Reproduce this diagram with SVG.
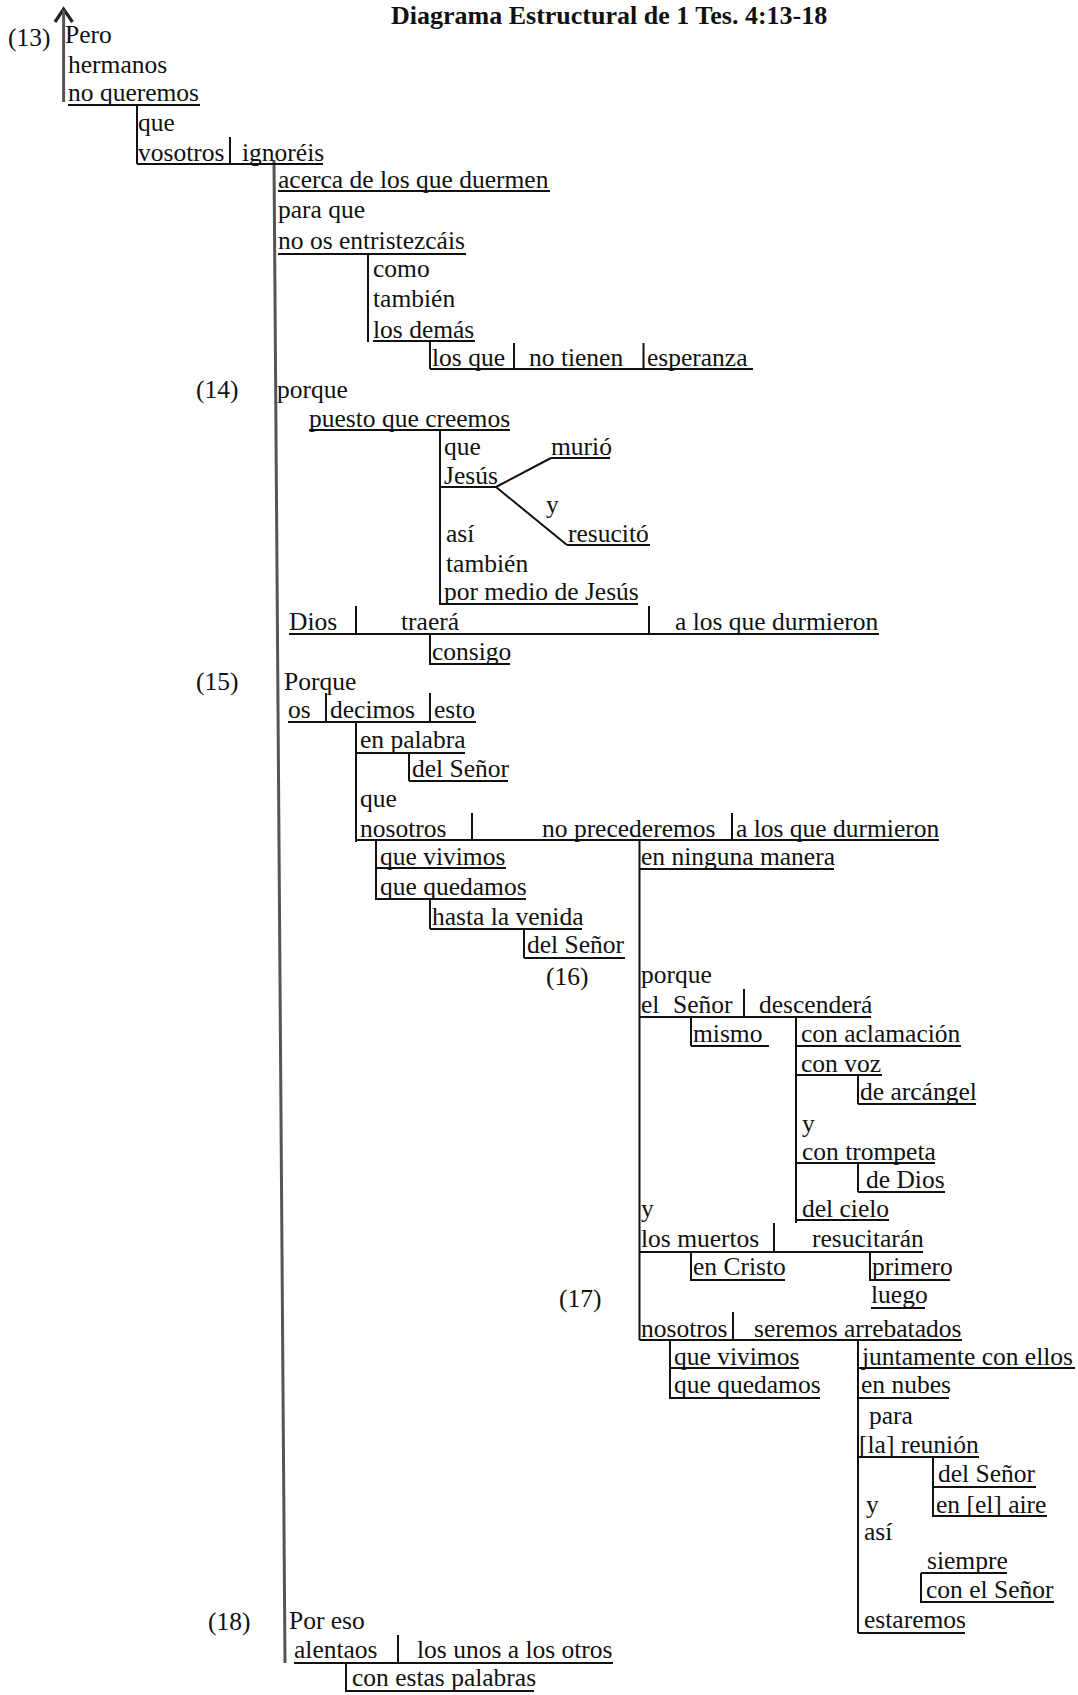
<svg xmlns="http://www.w3.org/2000/svg" width="1078" height="1695" viewBox="0 0 1078 1695">
<style>
text{font-family:"Liberation Serif","Times New Roman",serif;font-size:25.5px;fill:#111}
.title{font-weight:bold;font-size:26px}
.l{stroke:#111;stroke-width:2;fill:none}
.m{stroke:#555;stroke-width:3;fill:none}
.ah{stroke:#222;stroke-width:3.2;fill:none;stroke-linejoin:miter}
</style>
<rect width="1078" height="1695" fill="#fff"/>
<g id="connectors">
<polyline class="ah" points="55,22 63.6,9 72.5,22"/>
<line class="m" x1="63.6" y1="10" x2="63.6" y2="102"/>
<line class="m" x1="274" y1="160" x2="285" y2="1663"/>
<line class="l" x1="68" y1="105" x2="200" y2="105"/>
<line class="l" x1="137" y1="105" x2="137" y2="164"/>
<line class="l" x1="137" y1="164" x2="323" y2="164"/>
<line class="l" x1="230" y1="137" x2="230" y2="164"/>
<line class="l" x1="278" y1="191" x2="550" y2="191"/>
<line class="l" x1="278" y1="254" x2="466" y2="254"/>
<line class="l" x1="368" y1="254" x2="368" y2="342"/>
<line class="l" x1="373" y1="341" x2="475" y2="341"/>
<line class="l" x1="430" y1="341" x2="430" y2="369"/>
<line class="l" x1="430" y1="369" x2="753" y2="369"/>
<line class="l" x1="514" y1="343" x2="514" y2="369"/>
<line class="l" x1="643.5" y1="343" x2="643.5" y2="369"/>
<line class="l" x1="309" y1="430" x2="510" y2="430"/>
<line class="l" x1="440" y1="430" x2="440" y2="605"/>
<line class="l" x1="551" y1="458" x2="610" y2="458"/>
<line class="l" x1="440" y1="487" x2="496" y2="487"/>
<line class="l" x1="496" y1="487" x2="551" y2="458"/>
<line class="l" x1="496" y1="487" x2="567" y2="545"/>
<line class="l" x1="567" y1="545" x2="650" y2="545"/>
<line class="l" x1="440" y1="604" x2="638" y2="604"/>
<line class="l" x1="289" y1="634" x2="879" y2="634"/>
<line class="l" x1="356" y1="606" x2="356" y2="634"/>
<line class="l" x1="649" y1="606" x2="649" y2="634"/>
<line class="l" x1="430" y1="634" x2="430" y2="665"/>
<line class="l" x1="430" y1="664" x2="510" y2="664"/>
<line class="l" x1="288" y1="722" x2="476" y2="722"/>
<line class="l" x1="326" y1="693" x2="326" y2="722"/>
<line class="l" x1="430" y1="693" x2="430" y2="722"/>
<line class="l" x1="356" y1="722" x2="356" y2="842"/>
<line class="l" x1="356" y1="753" x2="465" y2="753"/>
<line class="l" x1="409" y1="753" x2="409" y2="781"/>
<line class="l" x1="409" y1="781" x2="508" y2="781"/>
<line class="l" x1="356" y1="840" x2="939" y2="840"/>
<line class="l" x1="472" y1="813" x2="472" y2="840"/>
<line class="l" x1="732" y1="813" x2="732" y2="840"/>
<line class="l" x1="376" y1="840" x2="376" y2="900"/>
<line class="l" x1="376" y1="868" x2="506" y2="868"/>
<line class="l" x1="376" y1="899" x2="526" y2="899"/>
<line class="l" x1="430" y1="899" x2="430" y2="929"/>
<line class="l" x1="430" y1="929" x2="582" y2="929"/>
<line class="l" x1="524" y1="929" x2="524" y2="958"/>
<line class="l" x1="524" y1="958" x2="625" y2="958"/>
<line class="l" x1="639.5" y1="840" x2="639.5" y2="1340"/>
<line class="l" x1="639.5" y1="869" x2="834" y2="869"/>
<line class="l" x1="639.5" y1="1017" x2="871" y2="1017"/>
<line class="l" x1="744" y1="989" x2="744" y2="1017"/>
<line class="l" x1="691" y1="1017" x2="691" y2="1046"/>
<line class="l" x1="691" y1="1046" x2="769" y2="1046"/>
<line class="l" x1="796" y1="1017" x2="796" y2="1223"/>
<line class="l" x1="796" y1="1046" x2="961" y2="1046"/>
<line class="l" x1="796" y1="1075" x2="882" y2="1075"/>
<line class="l" x1="858" y1="1075" x2="858" y2="1104"/>
<line class="l" x1="858" y1="1104" x2="976" y2="1104"/>
<line class="l" x1="796" y1="1163" x2="935" y2="1163"/>
<line class="l" x1="858" y1="1163" x2="858" y2="1192"/>
<line class="l" x1="858" y1="1192" x2="945" y2="1192"/>
<line class="l" x1="796" y1="1220" x2="889" y2="1220"/>
<line class="l" x1="639.5" y1="1252" x2="923" y2="1252"/>
<line class="l" x1="774" y1="1223" x2="774" y2="1252"/>
<line class="l" x1="691" y1="1252" x2="691" y2="1281"/>
<line class="l" x1="691" y1="1280" x2="785" y2="1280"/>
<line class="l" x1="870" y1="1252" x2="870" y2="1281"/>
<line class="l" x1="870" y1="1280" x2="950" y2="1280"/>
<line class="l" x1="871" y1="1308" x2="925" y2="1308"/>
<line class="l" x1="639.5" y1="1340" x2="962" y2="1340"/>
<line class="l" x1="733" y1="1312" x2="733" y2="1340"/>
<line class="l" x1="670" y1="1340" x2="670" y2="1399"/>
<line class="l" x1="670" y1="1368" x2="799" y2="1368"/>
<line class="l" x1="670" y1="1398" x2="820" y2="1398"/>
<line class="l" x1="858" y1="1340" x2="858" y2="1633"/>
<line class="l" x1="858" y1="1368" x2="1075" y2="1368"/>
<line class="l" x1="858" y1="1398" x2="949" y2="1398"/>
<line class="l" x1="858" y1="1457" x2="979" y2="1457"/>
<line class="l" x1="933" y1="1457" x2="933" y2="1517"/>
<line class="l" x1="933" y1="1487" x2="1036" y2="1487"/>
<line class="l" x1="933" y1="1516" x2="1047" y2="1516"/>
<line class="l" x1="921" y1="1573" x2="1007" y2="1573"/>
<line class="l" x1="921" y1="1573" x2="921" y2="1603"/>
<line class="l" x1="921" y1="1602" x2="1054" y2="1602"/>
<line class="l" x1="858" y1="1633" x2="965" y2="1633"/>
<line class="l" x1="294" y1="1663" x2="613" y2="1663"/>
<line class="l" x1="398" y1="1635" x2="398" y2="1663"/>
<line class="l" x1="346" y1="1663" x2="346" y2="1692"/>
<line class="l" x1="346" y1="1691" x2="534" y2="1691"/>
</g>
<g id="title"><text class="title" x="391" y="24">Diagrama Estructural de 1 Tes. 4:13-18</text></g>
<g id="v13">
<text x="8" y="46">(13)</text>
<text x="65" y="43">Pero</text>
<text x="68" y="73">hermanos</text>
<text x="68" y="101">no queremos</text>
</g>
<g id="n-que1"><text x="138" y="131">que</text></g>
<g id="n-vosotros"><text x="138" y="161">vosotros</text><text x="242" y="161">ignoréis</text></g>
<g id="n-acerca"><text x="278" y="188">acerca de los que duermen</text></g>
<g id="n-paraque"><text x="278" y="218">para que</text><text x="278" y="249">no os entristezcáis</text></g>
<g id="n-como"><text x="373" y="277">como</text><text x="373" y="307">también</text><text x="373" y="338">los demás</text></g>
<g id="n-losque"><text x="432" y="366">los que</text><text x="529" y="366">no tienen</text><text x="647" y="366">esperanza</text></g>
<g id="v14">
<text x="196" y="398">(14)</text>
<text x="277" y="398">porque</text>
<text x="309" y="427">puesto que creemos</text>
</g>
<g id="n-jesus">
<text x="444" y="455">que</text>
<text x="444" y="484">Jesús</text>
<text x="551" y="455">murió</text>
<text x="546" y="513">y</text>
<text x="568" y="542">resucitó</text>
</g>
<g id="n-asi"><text x="446" y="542">así</text><text x="446" y="572">también</text><text x="444" y="600">por medio de Jesús</text></g>
<g id="n-dios"><text x="289" y="630">Dios</text><text x="401" y="630">traerá</text><text x="675" y="630">a los que durmieron</text></g>
<g id="n-consigo"><text x="432" y="660">consigo</text></g>
<g id="v15">
<text x="196" y="690">(15)</text>
<text x="284" y="690">Porque</text>
<text x="288" y="718">os</text><text x="330" y="718">decimos</text><text x="434" y="718">esto</text>
</g>
<g id="n-palabra"><text x="360" y="748">en palabra</text><text x="412" y="777">del Señor</text></g>
<g id="n-nosotros1">
<text x="360" y="807">que</text>
<text x="360" y="837">nosotros</text><text x="542" y="837">no precederemos</text><text x="736" y="837">a los que durmieron</text>
</g>
<g id="n-vivimos1"><text x="380" y="865">que vivimos</text><text x="380" y="895">que quedamos</text></g>
<g id="n-venida"><text x="432" y="925">hasta la venida</text><text x="527" y="953">del Señor</text></g>
<g id="n-ninguna"><text x="641" y="865">en ninguna manera</text></g>
<g id="v16">
<text x="546" y="985">(16)</text>
<text x="641" y="983">porque</text>
<text x="641" y="1013">el</text><text x="673" y="1013">Señor</text><text x="759" y="1013">descenderá</text>
<text x="693" y="1042">mismo</text>
</g>
<g id="n-aclamacion">
<text x="801" y="1042">con aclamación</text>
<text x="801" y="1072">con voz</text>
<text x="860" y="1100">de arcángel</text>
<text x="802" y="1132">y</text>
<text x="802" y="1160">con trompeta</text>
<text x="866" y="1188">de Dios</text>
<text x="802" y="1217">del cielo</text>
</g>
<g id="n-muertos">
<text x="641" y="1217">y</text>
<text x="641" y="1247">los muertos</text><text x="812" y="1247">resucitarán</text>
<text x="693" y="1275">en Cristo</text>
<text x="872" y="1275">primero</text>
</g>
<g id="v17">
<text x="559" y="1307">(17)</text>
<text x="871" y="1303">luego</text>
<text x="641" y="1337">nosotros</text><text x="754" y="1337">seremos arrebatados</text>
</g>
<g id="n-vivimos2"><text x="674" y="1365">que vivimos</text><text x="674" y="1393">que quedamos</text></g>
<g id="n-juntamente">
<text x="862" y="1365">juntamente con ellos</text>
<text x="861" y="1393">en nubes</text>
<text x="869" y="1424">para</text>
<text x="859" y="1453">[la] reunión</text>
</g>
<g id="n-aire"><text x="938" y="1482">del Señor</text><text x="936" y="1513">en [el] aire</text></g>
<g id="n-estaremos">
<text x="866" y="1513">y</text>
<text x="864" y="1540">así</text>
<text x="927" y="1569">siempre</text>
<text x="926" y="1598">con el Señor</text>
<text x="864" y="1628">estaremos</text>
</g>
<g id="v18">
<text x="208" y="1630">(18)</text>
<text x="289" y="1629">Por eso</text>
<text x="294" y="1658">alentaos</text><text x="417" y="1658">los unos a los otros</text>
<text x="352" y="1686">con estas palabras</text>
</g>
</svg>
